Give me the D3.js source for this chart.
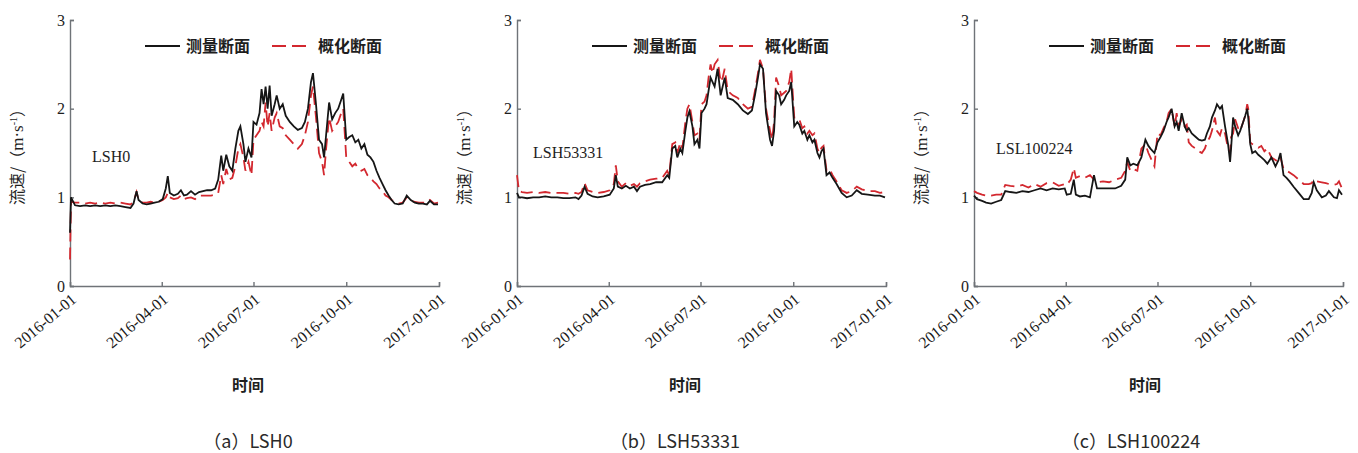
<!DOCTYPE html>
<html>
<head>
<meta charset="UTF-8">
<title>flow velocity</title>
<script src="https://cdn.jsdelivr.net/npm/d3@7"></script>
<style>
  body { margin: 0; background: #fff; }
  .axis path, .axis line { stroke: #6f7378; stroke-width: 1.4; }
  .axis text { font-family: "Liberation Serif", "Times New Roman", serif; fill: #1e1e1e; }
  .cjk { font-family: "Noto Sans CJK SC", sans-serif; fill: #1e1e1e; }
  .site { font-family: "Liberation Serif", serif; font-size: 16px; fill: #1e1e1e; }
</style>
</head>
<body>
<div id="chart"></div>
<script>
// day offsets from 2016-01-01, velocity in m/s

// (a) LSH0
var daysA = [0,1,5,10,15,20,25,30,35,40,45,50,55,60,63,66,68,72,76,80,84,88,92,95,97,99,103,107,110,113,
  116,120,124,128,132,136,140,144,147,150,152,155,158,161,164,167,169,172,174,177,180,182,185,188,190,192,194,196,198,200,
  203,205,208,211,214,218,222,226,230,233,236,239,241,244,247,250,252,254,257,260,263,266,269,271,274,277,280,283,286,289,
  292,295,298,301,304,307,310,313,316,319,322,326,330,334,338,342,346,350,354,357,361,365];
var measA = [0.6,1.0,0.91,0.90,0.91,0.90,0.91,0.90,0.91,0.90,0.91,0.90,0.89,0.88,0.93,1.07,0.97,0.93,0.92,0.93,
  0.94,0.95,0.98,1.10,1.24,1.05,1.02,1.04,1.08,1.02,1.03,1.07,1.03,1.06,1.07,1.08,1.08,1.10,1.20,1.47,
  1.30,1.48,1.35,1.30,1.55,1.75,1.80,1.60,1.40,1.55,1.45,1.85,1.82,1.95,2.22,2.05,2.25,2.00,2.26,1.92,
  2.05,2.15,2.00,2.05,1.92,1.85,1.80,1.76,1.78,1.85,2.00,2.30,2.40,2.05,1.65,1.60,1.45,1.70,2.07,1.88,
  1.95,2.00,2.10,2.17,1.65,1.68,1.70,1.62,1.65,1.55,1.60,1.48,1.45,1.40,1.30,1.22,1.15,1.08,1.02,0.97,
  0.93,0.92,0.93,1.02,0.97,0.94,0.93,0.93,0.92,0.96,0.92,0.92];
var genA = [0.30,0.95,0.94,0.94,0.93,0.94,0.93,0.94,0.93,0.94,0.93,0.94,0.93,0.92,0.95,1.06,0.97,0.94,0.94,0.95,
  0.94,0.95,0.97,1.00,1.05,1.00,0.98,0.99,1.02,0.98,0.99,1.00,0.98,1.02,1.02,1.02,1.02,1.03,1.05,1.25,
  1.15,1.32,1.20,1.22,1.35,1.55,1.60,1.45,1.30,1.40,1.25,1.65,1.70,1.75,1.85,1.80,2.07,1.80,1.95,1.75,
  1.90,1.95,1.80,1.78,1.70,1.65,1.60,1.55,1.60,1.70,1.85,2.15,2.25,1.90,1.50,1.40,1.25,1.55,1.90,1.75,
  1.80,1.85,1.95,2.00,1.45,1.40,1.35,1.38,1.32,1.30,1.32,1.25,1.22,1.18,1.15,1.10,1.07,1.02,1.00,0.97,
  0.95,0.93,0.94,1.00,0.96,0.95,0.94,0.94,0.94,0.97,0.93,0.94];

// (b) LSH53331
var daysB = [0,2,5,10,16,22,28,34,40,46,52,58,61,64,67,70,75,80,86,92,96,98,100,104,108,112,116,119,122,127,
  132,138,144,149,151,154,157,159,162,164,167,169,171,174,176,179,181,183,186,188,190,192,194,196,199,202,204,206,209,214,
  219,224,229,233,236,239,241,244,247,251,253,255,257,260,262,265,267,270,272,275,278,280,283,285,288,290,293,295,298,300,
  302,304,307,310,313,317,322,327,332,337,342,348,355,360,365];
var measB = [1.05,1.00,1.00,0.99,1.00,1.00,1.01,1.00,1.00,0.99,0.99,1.00,0.98,1.02,1.12,1.04,1.01,1.00,1.01,1.03,
  1.10,1.25,1.12,1.10,1.13,1.10,1.12,1.07,1.12,1.14,1.15,1.17,1.17,1.25,1.22,1.55,1.58,1.45,1.55,1.50,
  1.75,1.90,1.97,1.80,1.60,1.65,1.55,1.95,2.00,2.05,2.20,2.35,2.30,2.25,2.45,2.15,2.25,2.35,2.12,2.10,
  2.05,1.98,1.94,1.98,2.15,2.35,2.50,2.45,1.95,1.65,1.58,1.75,2.20,2.15,2.05,2.10,2.15,2.20,2.30,1.80,
  1.85,1.82,1.72,1.75,1.65,1.70,1.62,1.65,1.50,1.45,1.52,1.55,1.25,1.28,1.22,1.15,1.05,1.00,1.02,1.08,
  1.04,1.03,1.02,1.02,1.00];
var genB = [1.25,1.07,1.06,1.05,1.06,1.05,1.06,1.05,1.05,1.05,1.04,1.05,1.04,1.06,1.16,1.08,1.06,1.05,1.06,1.08,
  1.15,1.36,1.18,1.12,1.16,1.13,1.15,1.12,1.16,1.18,1.20,1.21,1.22,1.30,1.25,1.60,1.62,1.50,1.62,1.55,
  1.85,2.00,2.05,1.85,1.70,1.72,1.65,2.05,2.08,2.15,2.35,2.50,2.40,2.50,2.55,2.30,2.35,2.45,2.20,2.15,
  2.12,2.05,2.00,2.02,2.20,2.40,2.55,2.45,2.00,1.75,1.65,1.85,2.35,2.25,2.15,2.18,2.20,2.30,2.45,1.90,
  1.90,1.88,1.78,1.80,1.72,1.75,1.70,1.72,1.55,1.50,1.56,1.58,1.30,1.32,1.25,1.18,1.08,1.05,1.07,1.12,
  1.09,1.07,1.07,1.05,1.06];

// (c) LSH100224
var daysC = [0,3,8,12,17,22,27,31,36,42,48,54,60,66,72,78,84,90,92,96,99,101,105,110,115,119,122,128,134,140,
  146,150,152,155,158,162,166,170,173,175,179,182,185,188,191,193,196,199,201,203,206,209,211,213,216,220,223,226,229,231,
  234,236,239,241,244,246,249,252,254,255,257,259,262,264,267,269,271,272,274,276,279,282,285,288,291,295,299,302,304,307,
  310,313,317,322,327,332,335,337,340,345,349,352,357,360,362,365];
var measC = [1.02,0.98,0.96,0.94,0.93,0.95,0.97,1.07,1.06,1.05,1.07,1.06,1.08,1.10,1.08,1.10,1.09,1.10,1.03,1.04,
  1.20,1.03,1.01,1.02,1.00,1.25,1.10,1.10,1.10,1.10,1.13,1.20,1.45,1.36,1.38,1.36,1.45,1.65,1.58,1.55,
  1.50,1.62,1.68,1.75,1.85,1.90,2.00,1.80,1.85,1.75,1.95,1.80,1.75,1.78,1.72,1.68,1.65,1.64,1.65,1.72,
  1.80,1.90,1.98,2.05,2.00,2.03,1.80,1.60,1.40,1.55,1.90,1.80,1.70,1.75,1.85,1.92,2.00,1.90,1.60,1.50,
  1.52,1.48,1.45,1.42,1.38,1.45,1.35,1.42,1.50,1.25,1.22,1.18,1.12,1.05,0.98,0.98,1.05,1.17,1.08,1.00,
  1.02,1.07,1.00,0.99,1.08,1.03];
var genC = [1.07,1.05,1.03,1.02,1.02,1.03,1.03,1.14,1.13,1.12,1.14,1.11,1.15,1.12,1.16,1.17,1.13,1.15,1.14,1.20,
  1.33,1.22,1.24,1.22,1.25,1.20,1.17,1.18,1.17,1.20,1.22,1.30,1.40,1.30,1.32,1.30,1.55,1.60,1.50,1.45,
  1.35,1.72,1.70,1.78,1.85,1.95,2.00,1.80,1.95,1.80,1.88,1.80,1.82,1.62,1.58,1.55,1.52,1.50,1.55,1.62,
  1.68,1.75,1.90,1.75,1.70,1.78,1.72,1.55,1.50,1.68,1.72,1.88,1.78,1.75,1.85,1.92,2.05,2.00,1.62,1.60,
  1.58,1.56,1.58,1.52,1.55,1.45,1.42,1.40,1.45,1.32,1.30,1.28,1.25,1.20,1.15,1.15,1.16,1.20,1.18,1.17,
  1.16,1.15,1.14,1.15,1.18,1.10];

var siteNames = ["LSH0", "LSH53331", "LSL100224"];
var captions = ["（a）LSH0", "（b）LSH53331", "（c）LSH100224"];
var legendNames = ["测量断面", "概化断面"];
var yTicks = [0, 1, 2, 3];
var xTickDates = ["2016-01-01", "2016-04-01", "2016-07-01", "2016-10-01", "2017-01-01"];

// layout
var svgW = 1358, svgH = 453;
var plotW = 369, plotTop = 20, plotBottom = 286;
var panelLeft = [70, 517, 974];
var siteLabelPos = [[22, 162], [16, 158], [22, 154]];
var captionX = [178, 158, 157];
var timeLabelX = [178, 168, 171];

var panels = [
  { days: daysA, meas: measA, gen: genA },
  { days: daysB, meas: measB, gen: genB },
  { days: daysC, meas: measC, gen: genC }
];

var parse = d3.timeParse("%Y-%m-%d");
var t0 = parse("2016-01-01");

var svg = d3.select("#chart").append("svg")
  .attr("width", svgW).attr("height", svgH);

var x = d3.scaleTime()
  .domain([t0, parse("2017-01-01")])
  .range([0, plotW]);
var y = d3.scaleLinear()
  .domain([0, 3])
  .range([plotBottom, plotTop]);

var line = d3.line()
  .x(function (d) { return x(d.date); })
  .y(function (d) { return y(d.v); });

panels.forEach(function (p, i) {
  var g = svg.append("g").attr("transform", "translate(" + panelLeft[i] + ",0)");

  var seriesMeas = p.days.map(function (d, k) { return { date: d3.timeDay.offset(t0, d), v: p.meas[k] }; });
  var seriesGen = p.days.map(function (d, k) { return { date: d3.timeDay.offset(t0, d), v: p.gen[k] }; });

  // axes
  g.append("g")
    .attr("class", "axis")
    .call(d3.axisLeft(y).tickValues(yTicks).tickFormat(d3.format("d")).tickSize(-4).tickPadding(5))
    .call(function (a) { a.selectAll("text").style("font-size", "16px"); });

  g.append("g")
    .attr("class", "axis")
    .attr("transform", "translate(0," + plotBottom + ")")
    .call(d3.axisBottom(x).tickValues(xTickDates.map(parse)).tickFormat(d3.timeFormat("%Y-%m-%d")).tickSize(-4))
    .call(function (a) {
      a.selectAll("text")
        .style("font-family", "'Liberation Serif', serif")
        .style("font-size", "16px")
        .style("fill", "#1a1a1a")
        .attr("x", 0).attr("y", 0).attr("dy", 0)
        .attr("text-anchor", "end")
        .attr("transform", "translate(7,15) rotate(-40)");
    });

  // lines
  g.append("path")
    .datum(seriesGen)
    .attr("fill", "none")
    .attr("stroke", "#d3282f")
    .attr("stroke-width", 1.8)
    .attr("stroke-dasharray", "12,6")
    .attr("d", line);

  g.append("path")
    .datum(seriesMeas)
    .attr("fill", "none")
    .attr("stroke", "#161616")
    .attr("stroke-width", 1.8)
    .attr("d", line);

  // legend
  var lg = g.append("g").attr("transform", "translate(75,46)");
  lg.append("line").attr("x1", 0).attr("x2", 35).attr("y1", 0).attr("y2", 0)
    .attr("stroke", "#161616").attr("stroke-width", 2);
  lg.append("text").attr("class", "cjk").attr("x", 41).attr("y", 6)
    .style("font-size", "16px").style("font-weight", "bold").text(legendNames[0]);
  lg.append("line").attr("x1", 127).attr("x2", 165).attr("y1", 0).attr("y2", 0)
    .attr("stroke", "#d3282f").attr("stroke-width", 2).attr("stroke-dasharray", "14,6");
  lg.append("text").attr("class", "cjk").attr("x", 173).attr("y", 6)
    .style("font-size", "16px").style("font-weight", "bold").text(legendNames[1]);

  // site label
  g.append("text").attr("class", "site")
    .attr("x", siteLabelPos[i][0]).attr("y", siteLabelPos[i][1])
    .text(siteNames[i]);

  // y title
  var yt = g.append("text").attr("class", "cjk")
    .attr("transform", "translate(-47,153) rotate(-90)")
    .attr("text-anchor", "middle")
    .style("font-size", "16px");
  yt.append("tspan").text("流速/（");
  yt.append("tspan").style("font-family", "'Liberation Serif', serif").style("font-size", "17px").text("m·s");
  yt.append("tspan").attr("dy", -6).style("font-family", "'Liberation Serif', serif").style("font-size", "10px").text("-1");
  yt.append("tspan").attr("dy", 6).text("）");

  // x title
  g.append("text").attr("class", "cjk")
    .attr("x", timeLabelX[i]).attr("y", 391)
    .attr("text-anchor", "middle")
    .style("font-size", "16px").style("font-weight", "bold")
    .text("时间");

  // caption
  g.append("text")
    .attr("x", captionX[i]).attr("y", 448)
    .attr("text-anchor", "middle")
    .style("font-family", "'Noto Sans CJK SC', 'Liberation Sans', sans-serif")
    .style("font-size", "18px")
    .style("fill", "#2a2a2a")
    .text(captions[i]);
});
</script>
</body>
</html>
